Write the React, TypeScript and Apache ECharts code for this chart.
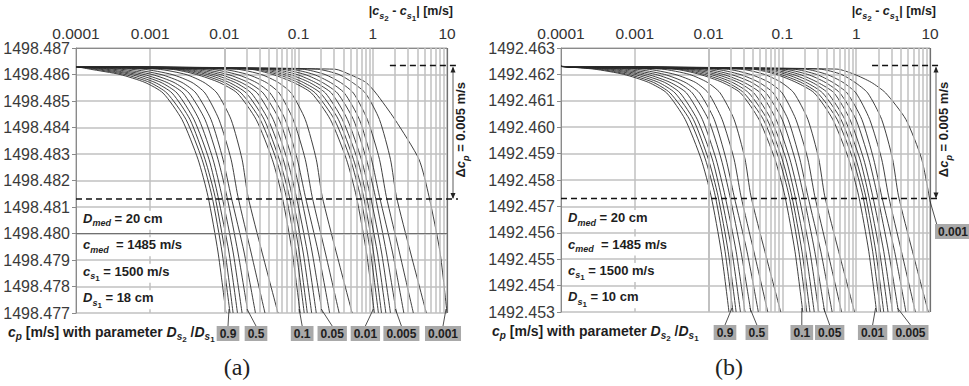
import React, { useEffect, useRef } from "react";
import * as echarts from "echarts";

const FONT = "'Liberation Sans', Arial, sans-serif";
const SERIF = "'Liberation Serif', 'DejaVu Serif', serif";
const INK = "#1e1e1e";
const GRID_GRAY = "#c0c0c0";

// ---------- axes ----------
const X_TICK_LABELS = ["0.0001", "0.001", "0.01", "0.1", "1", "10"];
const X_MIN = 0.0001;
const X_MAX = 10;
const Y_MIN_A = 1498.477;
const Y_MAX_A = 1498.487;
const Y_MIN_B = 1492.453;
const Y_MAX_B = 1492.463;
const Y_STEP = 0.001;

// ---------- c_p levels at which every curve was read ----------
const LEVELS_A = [1498.4863, 1498.4862, 1498.486, 1498.4857, 1498.4853, 1498.4843, 1498.4828, 1498.4814, 1498.4793, 1498.477];
const LEVELS_B = [1492.4623, 1492.4622, 1492.462, 1492.4617, 1492.4613, 1492.4603, 1492.4588, 1492.4574, 1492.4553, 1492.453];
const LEVELS_B_LAST = [1492.4623, 1492.4622, 1492.462, 1492.4617, 1492.4613, 1492.4603, 1492.4588, 1492.4572];

// parameter D_s2/D_s1 of each curve
const PARAMS_G1 = ["1", "0.9", "0.8", "0.7", "0.6", "0.5", "0.4", "0.3", "0.2"];
const PARAMS_G2 = ["0.1", "0.09", "0.08", "0.07", "0.06", "0.05", "0.04", "0.03", "0.02"];
const PARAMS_G3 = ["0.01", "0.009", "0.008", "0.007", "0.006", "0.005", "0.004", "0.003", "0.002"];
const PARAM_LAST = "0.001";

// ---------- panel (a): |c_s2 - c_s1| read at LEVELS_A ----------
const A_G1 = [
  [1e-4, 1.55e-4, 3.92e-4, 8.51e-4, 1.49e-3, 2.68e-3, 4.41e-3, 6.01e-3, 8.2e-3, 1.05e-2],
  [1e-4, 1.8e-4, 4.57e-4, 9.9e-4, 1.68e-3, 3.04e-3, 4.99e-3, 6.81e-3, 9.29e-3, 1.19e-2],
  [1e-4, 2.11e-4, 5.51e-4, 1.16e-3, 1.97e-3, 3.44e-3, 5.48e-3, 7.47e-3, 1.02e-2, 1.31e-2],
  [1e-4, 2.54e-4, 6.64e-4, 1.4e-3, 2.3e-3, 3.89e-3, 6.2e-3, 8.2e-3, 1.15e-2, 1.5e-2],
  [1e-4, 3.15e-4, 8.25e-4, 1.68e-3, 2.77e-3, 4.55e-3, 7.02e-3, 9.29e-3, 1.31e-2, 1.73e-2],
  [1e-4, 4.04e-4, 1.06e-3, 2.09e-3, 3.33e-3, 5.48e-3, 8.2e-3, 1.08e-2, 1.52e-2, 2.08e-2],
  [1e-4, 5.51e-4, 1.4e-3, 2.68e-3, 4.14e-3, 6.6e-3, 9.57e-3, 1.23e-2, 1.84e-2, 2.62e-2],
  [1e-4, 8e-4, 1.97e-3, 3.66e-3, 5.48e-3, 8.45e-3, 1.23e-2, 1.52e-2, 2.28e-2, 3.52e-2],
  [1e-4, 1.27e-3, 3.04e-3, 5.31e-3, 7.95e-3, 1.23e-2, 1.73e-2, 2.08e-2, 3.21e-2, 5.27e-2],
];
const A_G2 = [
  [1e-4, 1.9e-3, 4.2e-3, 8.5e-3, 1.49e-2, 2.68e-2, 4.41e-2, 6.0e-2, 8.2e-2, 0.105],
  [1e-4, 2.2e-3, 4.9e-3, 9.9e-3, 1.68e-2, 3.04e-2, 4.99e-2, 6.8e-2, 9.3e-2, 0.119],
  [1e-4, 2.5e-3, 5.9e-3, 1.16e-2, 1.97e-2, 3.44e-2, 5.48e-2, 7.5e-2, 0.102, 0.131],
  [1e-4, 3.0e-3, 7.1e-3, 1.4e-2, 2.3e-2, 3.89e-2, 6.2e-2, 8.2e-2, 0.115, 0.15],
  [1e-4, 3.7e-3, 8.8e-3, 1.68e-2, 2.77e-2, 4.55e-2, 7.0e-2, 9.3e-2, 0.131, 0.173],
  [1e-4, 4.7e-3, 1.12e-2, 2.09e-2, 3.33e-2, 5.48e-2, 8.2e-2, 0.108, 0.152, 0.208],
  [1e-4, 6.4e-3, 1.48e-2, 2.68e-2, 4.14e-2, 6.6e-2, 9.6e-2, 0.123, 0.184, 0.262],
  [1e-4, 9.2e-3, 2.07e-2, 3.66e-2, 5.48e-2, 8.45e-2, 0.123, 0.152, 0.228, 0.352],
  [1e-4, 1.45e-2, 3.15e-2, 5.31e-2, 7.95e-2, 0.123, 0.173, 0.208, 0.321, 0.527],
];
const A_G3 = [
  [1e-4, 2.2e-2, 4.5e-2, 8.5e-2, 0.149, 0.268, 0.441, 0.6, 0.82, 1.05],
  [1e-4, 2.5e-2, 5.3e-2, 9.9e-2, 0.168, 0.304, 0.499, 0.68, 0.93, 1.19],
  [1e-4, 3.0e-2, 6.3e-2, 0.116, 0.197, 0.344, 0.548, 0.75, 1.02, 1.31],
  [1e-4, 3.6e-2, 7.6e-2, 0.14, 0.23, 0.389, 0.62, 0.82, 1.15, 1.5],
  [1e-4, 4.4e-2, 9.5e-2, 0.168, 0.277, 0.455, 0.7, 0.93, 1.31, 1.73],
  [1e-4, 5.7e-2, 0.122, 0.209, 0.333, 0.548, 0.82, 1.08, 1.52, 2.08],
  [1e-4, 7.7e-2, 0.161, 0.268, 0.414, 0.66, 0.96, 1.23, 1.84, 2.62],
  [1e-4, 0.112, 0.227, 0.366, 0.548, 0.845, 1.23, 1.52, 2.28, 3.52],
  [1e-4, 0.178, 0.35, 0.531, 0.795, 1.23, 1.73, 2.08, 3.21, 5.27],
];
const A_LAST = [1e-4, 0.31, 0.49, 0.81, 1.1, 1.99, 4.19, 5.72, 8.05, 10];

// ---------- panel (b): |c_s2 - c_s1| read at LEVELS_B ----------
const B_G1 = [
  [1e-4, 2.8e-4, 7.1e-4, 1.53e-3, 2.7e-3, 4.8e-3, 7.9e-3, 1.08e-2, 1.48e-2, 1.89e-2],
  [1e-4, 3.2e-4, 8.2e-4, 1.78e-3, 3.0e-3, 5.5e-3, 9.0e-3, 1.23e-2, 1.67e-2, 2.14e-2],
  [1e-4, 3.8e-4, 9.9e-4, 2.09e-3, 3.5e-3, 6.2e-3, 9.9e-3, 1.34e-2, 1.84e-2, 2.36e-2],
  [1e-4, 4.6e-4, 1.2e-3, 2.52e-3, 4.1e-3, 7.0e-3, 1.12e-2, 1.48e-2, 2.07e-2, 2.7e-2],
  [1e-4, 5.7e-4, 1.49e-3, 3.0e-3, 5.0e-3, 8.2e-3, 1.26e-2, 1.67e-2, 2.36e-2, 3.11e-2],
  [1e-4, 7.3e-4, 1.91e-3, 3.8e-3, 6.0e-3, 9.9e-3, 1.48e-2, 1.94e-2, 2.74e-2, 3.74e-2],
  [1e-4, 9.9e-4, 2.52e-3, 4.8e-3, 7.5e-3, 1.19e-2, 1.72e-2, 2.21e-2, 3.31e-2, 4.72e-2],
  [1e-4, 1.44e-3, 3.5e-3, 6.6e-3, 9.9e-3, 1.52e-2, 2.21e-2, 2.74e-2, 4.1e-2, 6.34e-2],
  [1e-4, 2.29e-3, 5.5e-3, 9.6e-3, 1.43e-2, 2.21e-2, 3.11e-2, 3.74e-2, 5.78e-2, 9.49e-2],
];
const B_G2 = [
  [1e-4, 3.4e-3, 7.6e-3, 1.53e-2, 2.7e-2, 4.8e-2, 7.9e-2, 0.108, 0.148, 0.189],
  [1e-4, 3.9e-3, 8.8e-3, 1.78e-2, 3.0e-2, 5.5e-2, 9.0e-2, 0.123, 0.167, 0.214],
  [1e-4, 4.6e-3, 1.06e-2, 2.09e-2, 3.5e-2, 6.2e-2, 9.9e-2, 0.134, 0.184, 0.236],
  [1e-4, 5.5e-3, 1.28e-2, 2.52e-2, 4.1e-2, 7.0e-2, 0.112, 0.148, 0.207, 0.27],
  [1e-4, 6.8e-3, 1.58e-2, 3.0e-2, 5.0e-2, 8.2e-2, 0.126, 0.167, 0.236, 0.311],
  [1e-4, 8.8e-3, 2.0e-2, 3.8e-2, 6.0e-2, 9.9e-2, 0.148, 0.194, 0.274, 0.374],
  [1e-4, 1.19e-2, 2.66e-2, 4.8e-2, 7.5e-2, 0.119, 0.172, 0.221, 0.331, 0.472],
  [1e-4, 1.73e-2, 3.7e-2, 6.6e-2, 9.9e-2, 0.152, 0.221, 0.274, 0.41, 0.634],
  [1e-4, 2.7e-2, 5.7e-2, 9.6e-2, 0.143, 0.221, 0.311, 0.374, 0.578, 0.949],
];
const B_G3 = [
  [1e-4, 3.9e-2, 8.2e-2, 0.153, 0.27, 0.48, 0.79, 1.08, 1.48, 1.89],
  [1e-4, 4.5e-2, 9.4e-2, 0.178, 0.3, 0.55, 0.9, 1.23, 1.67, 2.14],
  [1e-4, 5.3e-2, 0.114, 0.209, 0.35, 0.62, 0.99, 1.34, 1.84, 2.36],
  [1e-4, 6.4e-2, 0.138, 0.252, 0.41, 0.7, 1.12, 1.48, 2.07, 2.7],
  [1e-4, 8.0e-2, 0.171, 0.3, 0.5, 0.82, 1.26, 1.67, 2.36, 3.11],
  [1e-4, 0.102, 0.22, 0.38, 0.6, 0.99, 1.48, 1.94, 2.74, 3.74],
  [1e-4, 0.139, 0.29, 0.48, 0.75, 1.19, 1.72, 2.21, 3.31, 4.72],
  [1e-4, 0.2, 0.4, 0.66, 0.99, 1.52, 2.21, 2.74, 4.1, 6.34],
  [1e-4, 0.32, 0.63, 0.96, 1.43, 2.21, 3.11, 3.74, 5.78, 9.49],
];
const B_LAST = [1e-4, 0.55, 0.95, 1.6, 2.5, 4.7, 7.7, 10];

// ---------- annotations ----------
const LABELS_A = ["0.9", "0.5", "0.1", "0.05", "0.01", "0.005", "0.001"];
const LABELS_B = ["0.9", "0.5", "0.1", "0.05", "0.01", "0.005"];
const LABEL_B_SIDE = "0.001";
const C0_A = 1498.4863;
const C0_B = 1492.4623;
const DELTA_CP = 0.005;
const DASH_START = [1.7, 1.64];
const INFO_A = ["{i|D}{s|med}{b| = 20 cm}", "{i|c}{s|med}{b|  = 1485 m/s}", "{i|c}{s|s}{ss|1}{b| = 1500 m/s}", "{i|D}{s|s}{ss|1}{b| = 18 cm}"];
const INFO_B = ["{i|D}{s|med}{b| = 20 cm}", "{i|c}{s|med}{b|  = 1485 m/s}", "{i|c}{s|s}{ss|1}{b| = 1500 m/s}", "{i|D}{s|s}{ss|1}{b| = 10 cm}"];
const INFO_ROWS = [1498.4805, 1498.4795, 1498.4785, 1498.4775];
const INFO_ROWS_B = [1492.4565, 1492.4555, 1492.4545, 1492.4535];
const CAPTION = "{i|c}{s|p}{b| [m/s] with parameter }{i|D}{s|s}{ss|2}{b| /}{i|D}{s|s}{ss|1}";
const TOP_TITLE = "{b||}{i|c}{s|s}{ss|2}{b| - }{i|c}{s|s}{ss|1}{b|| [m/s]}";
const DELTA_TEXT = "{b|\u0394}{i|c}{s|p}{b| = 0.005 m/s}";

function rich(size: number) {
  const base = { fontFamily: FONT, fontWeight: "bold", fill: INK };
  return {
    b: { ...base, fontSize: size, verticalAlign: "top" },
    i: { ...base, fontSize: size, fontStyle: "italic", verticalAlign: "top" },
    s: { ...base, fontSize: Math.round(size * 0.68), fontStyle: "italic", verticalAlign: "bottom", padding: [0, 0, 2, 0] },
    ss: { ...base, fontSize: Math.round(size * 0.6), verticalAlign: "bottom" },
  };
}

const GRIDS = [
  { left: 76, top: 48, width: 371, height: 265 },
  { left: 561, top: 48, width: 369, height: 264 },
];

function minorValues() {
  const out: number[] = [];
  for (let e = -4; e < 1; e++) for (let m = 2; m <= 9; m++) out.push(Number((m * Math.pow(10, e)).toPrecision(2)));
  return out;
}

function curveSeries(xs: number[], ys: number[], gi: number, name: string) {
  return {
    type: "line",
    name,
    xAxisIndex: gi,
    yAxisIndex: gi,
    data: xs.map((x, i) => [x, ys[i]]),
    symbol: "none",
    showSymbol: false,
    smooth: 0.22,
    silent: true,
    z: 3,
    lineStyle: { color: "#2b2b2b", width: 0.9 },
  };
}

function buildOption() {
  const minors = minorValues();
  const series: any[] = [];
  const panels = [
    { gi: 0, ymin: Y_MIN_A, groups: [A_G1, A_G2, A_G3], last: A_LAST, levels: LEVELS_A, lastLevels: LEVELS_A },
    { gi: 1, ymin: Y_MIN_B, groups: [B_G1, B_G2, B_G3], last: B_LAST, levels: LEVELS_B, lastLevels: LEVELS_B_LAST },
  ];
  const paramGroups = [PARAMS_G1, PARAMS_G2, PARAMS_G3];
  panels.forEach((p) => {
    series.push({
      type: "line",
      xAxisIndex: p.gi,
      yAxisIndex: p.gi,
      data: [[X_MIN, p.ymin]],
      symbol: "none",
      silent: true,
      z: 1,
      lineStyle: { width: 0 },
      markLine: {
        silent: true,
        symbol: ["none", "none"],
        label: { show: false },
        lineStyle: { color: GRID_GRAY, width: 1.5, type: "solid" },
        data: minors.map((v) => ({ xAxis: v })),
      },
    });
    p.groups.forEach((g, gIdx) => g.forEach((xs, k) => series.push(curveSeries(xs, p.levels, p.gi, paramGroups[gIdx][k]))));
    series.push(curveSeries(p.last, p.lastLevels, p.gi, PARAM_LAST));
    series.push({
      type: "line",
      xAxisIndex: p.gi,
      yAxisIndex: p.gi,
      data: [[X_MIN, p.ymin]],
      symbol: "none",
      silent: true,
      z: 4,
      lineStyle: { width: 0 },
      markLine: {
        silent: true,
        symbol: ["none", "none"],
        label: { show: false },
        lineStyle: { color: "#707070", width: 1.2, type: "solid" },
        data: [{ xAxis: X_MAX }, { yAxis: p.ymin }],
      },
    });
  });

  const xAxis = [0, 1].map((gi) => ({
    type: "log",
    logBase: 10,
    gridIndex: gi,
    position: "top",
    min: X_MIN,
    max: X_MAX,
    axisLine: { show: true, lineStyle: { color: "#8a8a8a", width: 1 } },
    axisTick: { show: false },
    axisLabel: {
      margin: 7,
      fontSize: 15.5,
      fontFamily: FONT,
      color: "#333",
      formatter: (v: number) => X_TICK_LABELS[Math.round(Math.log10(v)) + 4] ?? "",
    },
    splitLine: { show: true, lineStyle: { color: GRID_GRAY, width: 1.5 } },
  }));
  const yAxis = [
    [Y_MIN_A, Y_MAX_A],
    [Y_MIN_B, Y_MAX_B],
  ].map(([min, max], gi) => ({
    type: "value",
    gridIndex: gi,
    min,
    max,
    interval: Y_STEP,
    axisLine: { show: true, lineStyle: { color: "#8a8a8a", width: 1 } },
    axisTick: { show: true, length: 4, lineStyle: { color: "#8a8a8a" } },
    axisLabel: { margin: 6, fontSize: 16, fontFamily: FONT, color: "#3a3a3a", formatter: (v: number) => v.toFixed(3) },
    splitLine: { show: true, lineStyle: { color: GRID_GRAY, width: 1.5 } },
  }));

  return {
    animation: false,
    backgroundColor: "#ffffff",
    grid: GRIDS,
    xAxis,
    yAxis,
    series,
  };
}

function buildGraphics(chart: any) {
  const els: any[] = [];
  const px = (gi: number, x: number, y: number) => chart.convertToPixel({ gridIndex: gi }, [x, y]) as number[];
  const panels = [
    {
      gi: 0, ymin: Y_MIN_A, ymax: Y_MAX_A, c0: C0_A, curves: [...A_G1, ...A_G2, ...A_G3, A_LAST], levels: LEVELS_A,
      labels: LABELS_A, labelIdx: [1, 5, 9, 14, 18, 23, 27], labelDx: [-2, 8, 2, 10, -9, 5, -4],
      info: INFO_A, infoRows: INFO_ROWS, captionX: 8, subCap: "(a)", subCapX: 237,
    },
    {
      gi: 1, ymin: Y_MIN_B, ymax: Y_MAX_B, c0: C0_B, curves: [...B_G1, ...B_G2, ...B_G3, B_LAST], levels: LEVELS_B,
      labels: LABELS_B, labelIdx: [1, 5, 9, 14, 18, 23], labelDx: [-8, 6, -1, 5, -4, 12],
      info: INFO_B, infoRows: INFO_ROWS_B, captionX: 492, subCap: "(b)", subCapX: 729,
    },
  ];
  panels.forEach((p) => {
    const gi = p.gi;
    const [gx0] = px(gi, X_MIN, p.ymax);
    const [gx1, gyBot] = px(gi, X_MAX, p.ymin);
    const yHi = px(gi, X_MIN, p.c0)[1];
    const yLo = px(gi, X_MIN, p.c0 - DELTA_CP)[1];
    const dashX = px(gi, DASH_START[gi], p.c0)[0];
    const dashEnd = gx1 + 11;
    els.push({ type: "line", z: 20, silent: true, shape: { x1: dashX, y1: yHi - 1, x2: dashEnd, y2: yHi - 1 }, style: { stroke: "#111", lineWidth: 1.5, lineDash: [6, 4] } });
    els.push({ type: "line", z: 20, silent: true, shape: { x1: gx0, y1: yLo, x2: dashEnd, y2: yLo }, style: { stroke: "#111", lineWidth: 1.5, lineDash: [6, 4] } });
    const ax = gx1 + 6;
    els.push({ type: "line", z: 20, silent: true, shape: { x1: ax, y1: yHi + 1, x2: ax, y2: yLo - 1 }, style: { stroke: "#333", lineWidth: 0.8 } });
    els.push({ type: "polygon", z: 20, silent: true, shape: { points: [[ax, yHi], [ax - 2.5, yHi + 6], [ax + 2.5, yHi + 6]] }, style: { fill: "#222" } });
    els.push({ type: "polygon", z: 20, silent: true, shape: { points: [[ax, yLo], [ax - 2.5, yLo - 6], [ax + 2.5, yLo - 6]] }, style: { fill: "#222" } });
    els.push({
      type: "text", z: 20, silent: true, x: gx1 + 16, y: (yHi + yLo) / 2 - 3, rotation: Math.PI / 2,
      style: { text: DELTA_TEXT, rich: rich(13), lineHeight: 18, align: "center", verticalAlign: "middle" },
    });
    // top title
    els.push({
      type: "text", z: 20, silent: true, x: gx1 + 6, y: 13,
      style: { text: TOP_TITLE, rich: rich(12.5), lineHeight: 18, align: "right", verticalAlign: "middle" },
    });
    // caption below
    els.push({
      type: "text", z: 20, silent: true, x: p.captionX, y: gyBot + 21,
      style: { text: CAPTION, rich: rich(14), lineHeight: 19, align: "left", verticalAlign: "middle" },
    });
    // info box rows
    p.info.forEach((t, r) => {
      const yy = px(gi, X_MIN, p.infoRows[r])[1];
      els.push({
        type: "text", z: 15, silent: true, x: gx0 + 2, y: yy,
        style: { text: t, rich: rich(13), lineHeight: 18, align: "left", verticalAlign: "middle", backgroundColor: "#ffffff", padding: [1, 6, 0, 5] },
      });
    });
    // parameter labels
    p.labels.forEach((t, k) => {
      const c = p.curves[p.labelIdx[k]];
      const [ex, ey] = px(gi, c[c.length - 1], p.levels[p.levels.length - 1]);
      const cx = ex + p.labelDx[k];
      const top = gyBot + 13;
      els.push({ type: "line", z: 20, silent: true, shape: { x1: ex - 1, y1: ey - 4, x2: cx, y2: top }, style: { stroke: "#222", lineWidth: 0.8 } });
      els.push({
        type: "text", z: 21, silent: true, x: cx, y: top,
        style: { text: t, fontSize: 12, fontWeight: "bold", fontFamily: FONT, fill: INK, backgroundColor: "#a9a9a9", padding: [2, 3, 1, 3], lineHeight: 12, align: "center", verticalAlign: "top" },
      });
    });
    // sub-caption
    els.push({
      type: "text", z: 20, silent: true, x: p.subCapX, y: 367,
      style: { text: p.subCap, fontSize: 24, fontFamily: SERIF, fill: "#222", align: "center", verticalAlign: "middle" },
    });
  });
  // side label for 0.001 in panel (b)
  const [ex, ey] = px(1, B_LAST[B_LAST.length - 1], LEVELS_B_LAST[LEVELS_B_LAST.length - 1]);
  els.push({ type: "line", z: 20, silent: true, shape: { x1: ex, y1: ey, x2: ex + 7, y2: ey + 24 }, style: { stroke: "#222", lineWidth: 0.8 } });
  els.push({
    type: "text", z: 21, silent: true, x: ex + 5, y: ey + 23,
    style: { text: LABEL_B_SIDE, fontSize: 12, fontWeight: "bold", fontFamily: FONT, fill: INK, backgroundColor: "#a9a9a9", padding: [2, 3, 1, 3], lineHeight: 12, align: "left", verticalAlign: "top" },
  });
  return els;
}

export default function App() {
  const ref = useRef<HTMLDivElement>(null);
  useEffect(() => {
    const el = ref.current;
    if (!el) return;
    const chart = echarts.init(el, null, { renderer: "svg" });
    chart.setOption(buildOption() as any);
    chart.setOption({ graphic: { elements: buildGraphics(chart) } } as any);
    return () => chart.dispose();
  }, []);
  return <div ref={ref} style={{ position: "fixed", left: 0, top: 0, width: 969, height: 386, background: "#fff" }} />;
}
